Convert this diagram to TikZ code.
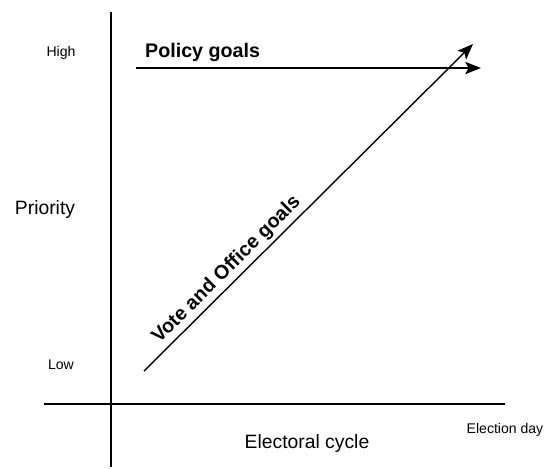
\documentclass[tikz,border=0pt]{standalone}
\usepackage{fontspec}
\setmainfont{Liberation Sans}
\usetikzlibrary{arrows.meta}

\begin{document}
\begin{tikzpicture}[x=0.02cm,y=-0.02cm,
  axis/.style={line width=1pt},
  goal/.style={line width=0.8pt,-{Stealth[length=9pt,width=7pt,inset=2pt]}},
  small/.style={font=\fontsize{8}{9}\selectfont},
  big/.style={font=\fontsize{11}{13}\selectfont},
  goaltext/.style={font=\fontsize{11.2}{13}\selectfont\bfseries}]

 \useasboundingbox (0,0) rectangle (547,468);

 % axes
 \coordinate (ytop) at (111,12);
 \coordinate (ybot) at (111,467);
 \coordinate (xleft) at (44,404);
 \coordinate (xright) at (505,404);
 \draw[axis] (ytop) -- (ybot);
 \draw[axis] (xleft) -- (xright);

 % axis labels
 \node[small] (high) at (61,53) {High};
 \node[small] (low) at (61,365) {Low};
 \node[big] (prio) at (45,209) {Priority};
 \node[big] (cycle) at (307,443) {Electoral cycle};
 \node[small] (eday) at (505,430) {Election day};

 % policy goals stay high
 \coordinate (pstart) at (136,68);
 \coordinate (pend) at (481,68);
 \draw[goal] (pstart) -- (pend);
 \node[goaltext, anchor=base west] (policy) at (139,57) {Policy goals};

 % vote and office goals rise towards election day
 \coordinate (vstart) at (144,371);
 \coordinate (vend) at (473,44);
 \draw[goal] (vstart) -- node[goaltext, sloped, above, pos=0.28, inner sep=2pt] (vote) {Vote and Office goals} (vend);

\end{tikzpicture}
\end{document}
